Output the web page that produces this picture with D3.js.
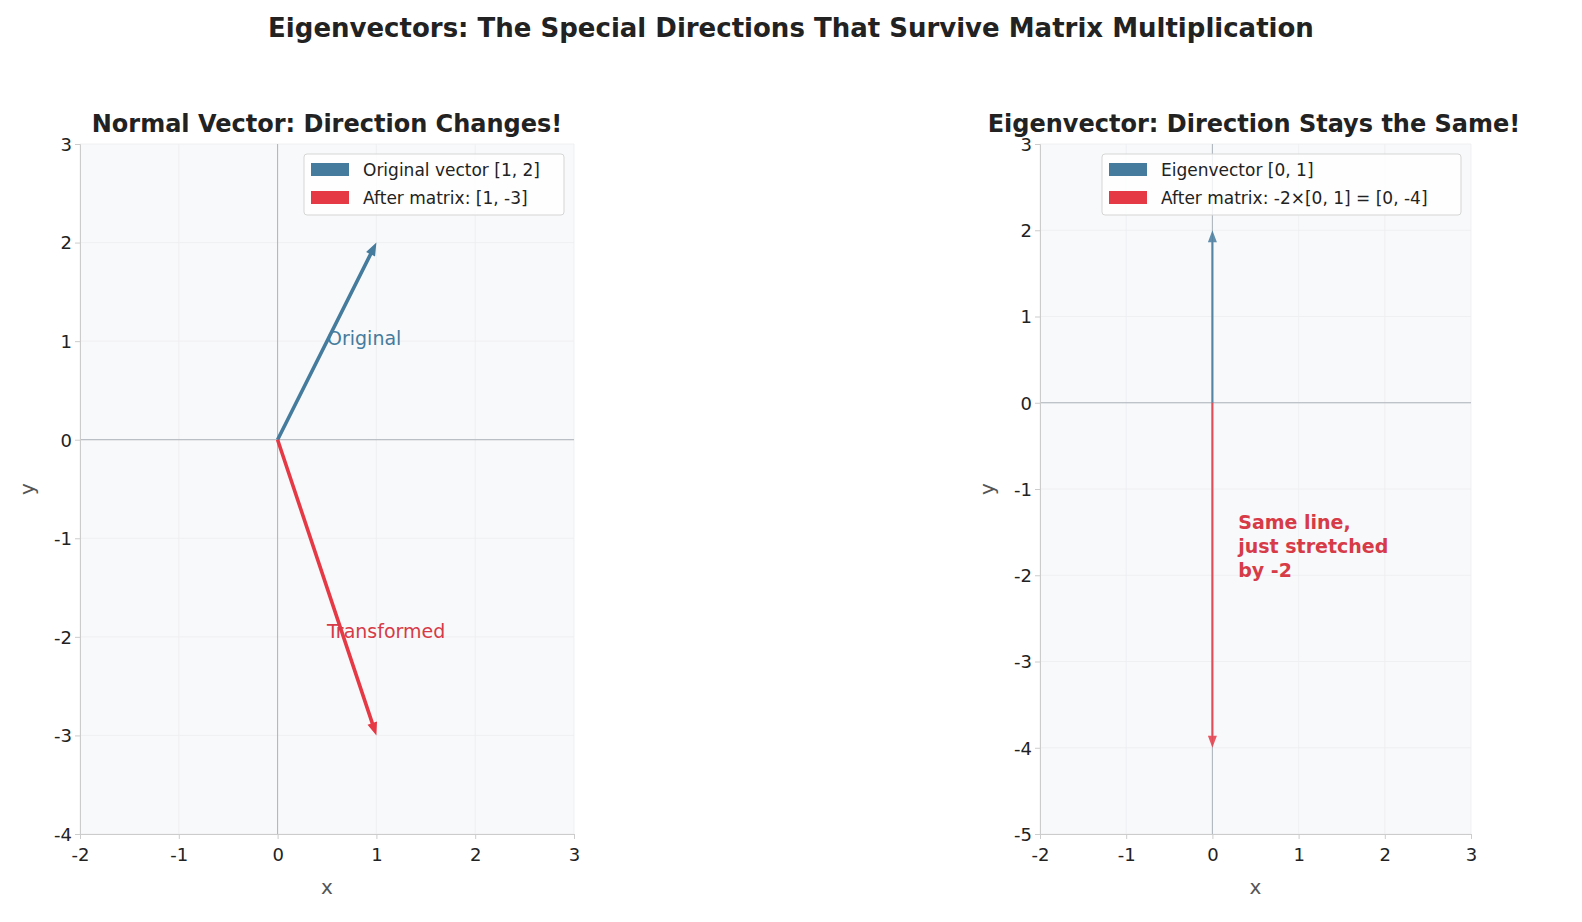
<!DOCTYPE html>
<html>
<head>
<meta charset="UTF-8">
<style>
  body { margin: 0; background: #fff; }
  svg { font-family: "DejaVu Sans", sans-serif; }
</style>
</head>
<body>
<svg width="1582" height="922"></svg>
<script src="https://d3js.org/d3.v7.min.js"></script>
<script>
// data
var leftXTicks = [-2, -1, 0, 1, 2, 3];
var leftYTicks = [-4, -3, -2, -1, 0, 1, 2, 3];
var rightXTicks = [-2, -1, 0, 1, 2, 3];
var rightYTicks = [-5, -4, -3, -2, -1, 0, 1, 2, 3];
var leftVectors = [[1, 2], [1, -3]];
var rightVectors = [[0, 2], [0, -4]];
var leftLegend = ["Original vector [1, 2]", "After matrix: [1, -3]"];
var rightLegend = ["Eigenvector [0, 1]", "After matrix: -2×[0, 1] = [0, -4]"];
var blue = "#457b9d", red = "#e63946";

var svg = d3.select("svg");
svg.append("text").attr("x", 791).attr("y", 37).attr("text-anchor", "middle")
  .attr("font-size", 26).attr("font-weight", "bold").attr("fill", "#222")
  .text("Eigenvectors: The Special Directions That Survive Matrix Multiplication");

var fmt = d => String(d).replace("\u2212", "-");

function panel(o) {
  var x = d3.scaleLinear().domain(o.xd).range([o.x0, o.x1]);
  var y = d3.scaleLinear().domain(o.yd).range([834, 144]);
  var g = svg.append("g");
  g.append("rect").attr("x", o.x0).attr("y", 144).attr("width", o.x1 - o.x0).attr("height", 690).attr("fill", "#f8f9fa");
  g.selectAll(".gx").data(o.xt).enter().append("line")
    .attr("x1", d => x(d)).attr("x2", d => x(d)).attr("y1", 144).attr("y2", 834)
    .attr("stroke", "#eceef0").attr("stroke-width", 0.8);
  g.selectAll(".gy").data(o.yt).enter().append("line")
    .attr("y1", d => y(d)).attr("y2", d => y(d)).attr("x1", o.x0).attr("x2", o.x1)
    .attr("stroke", "#eceef0").attr("stroke-width", 0.8);
  g.append("line").attr("x1", x(0)).attr("x2", x(0)).attr("y1", 144).attr("y2", 834).attr("stroke", "#a4acb3").attr("stroke-width", 0.9);
  g.append("line").attr("y1", y(0)).attr("y2", y(0)).attr("x1", o.x0).attr("x2", o.x1).attr("stroke", "#a4acb3").attr("stroke-width", 0.9);
  var ax = g.append("g").attr("transform", "translate(0,834)")
    .call(d3.axisBottom(x).tickValues(o.xt).tickFormat(fmt).tickSize(5));
  var ay = g.append("g").attr("transform", "translate(" + o.x0 + ",0)")
    .call(d3.axisLeft(y).tickValues(o.yt).tickFormat(fmt).tickSize(5));
  [ax, ay].forEach(a => {
    a.selectAll("path,line").attr("stroke", "#ccc");
    a.selectAll("text").attr("font-size", 18).attr("fill", "#222").attr("font-family", "DejaVu Sans");
  });
  ax.selectAll("text").attr("dy", "1.05em");
  ay.selectAll("text").attr("dy", "0.35em");
  g.append("text").attr("x", (o.x0 + o.x1) / 2).attr("y", 894).attr("text-anchor", "middle")
    .attr("font-size", 20).attr("fill", "#555").text("x");
  g.append("text").attr("transform", "translate(" + (o.x0 - 46) + ",489) rotate(-90)").attr("text-anchor", "middle")
    .attr("font-size", 20).attr("fill", "#555").text("y");
  g.append("text").attr("x", o.tx).attr("y", 132).attr("text-anchor", "middle")
    .attr("font-size", 24).attr("font-weight", "bold").attr("fill", "#222").text(o.title);
  o.vecs.forEach((v, i) => {
    var px0 = x(0), py0 = y(0), px1 = x(v[0]), py1 = y(v[1]);
    var dx = px1 - px0, dy = py1 - py0, L = Math.hypot(dx, dy);
    var ux = dx / L, uy = dy / L, nx = -uy, ny = ux;
    var w = o.sw / 2, hl = o.hl, hw = o.hw;
    var bx = px1 - ux * hl, by = py1 - uy * hl;
    var pts = [[px0 + nx * w, py0 + ny * w], [bx + nx * w, by + ny * w], [bx + nx * hw, by + ny * hw], [px1, py1],
      [bx - nx * hw, by - ny * hw], [bx - nx * w, by - ny * w], [px0 - nx * w, py0 - ny * w]];
    g.append("path").attr("d", d3.line()(pts) + "Z").attr("fill", i ? red : blue).attr("opacity", o.op);
  });
  var lg = g.append("g").attr("transform", "translate(" + o.lx + ",154)");
  lg.append("rect").attr("width", o.lw).attr("height", 61).attr("rx", 3).attr("fill", "#fff").attr("fill-opacity", 0.8)
    .attr("stroke", "#d5d5d5");
  o.leg.forEach((t, i) => {
    lg.append("rect").attr("x", 7).attr("y", 9 + i * 28).attr("width", 38).attr("height", 13).attr("fill", i ? red : blue);
    lg.append("text").attr("x", 59).attr("y", 22 + i * 28).attr("font-size", 17).attr("fill", "#222").text(t);
  });
  return {x: x, y: y, g: g};
}

var L = panel({x0: 80, x1: 574, xd: [-2, 3], yd: [-4, 3], xt: leftXTicks, yt: leftYTicks, tx: 327,
  title: "Normal Vector: Direction Changes!", vecs: leftVectors, sw: 3.6, hl: 13, hw: 5, op: 1,
  leg: leftLegend, lx: 304, lw: 260});
L.g.append("text").attr("x", L.x(0.5)).attr("y", L.y(1) + 4).attr("font-size", 19).attr("fill", blue).text("Original");
L.g.append("text").attr("x", L.x(0.5)).attr("y", L.y(-2) + 1).attr("font-size", 19).attr("fill", "#d63b47").text("Transformed");

var R = panel({x0: 1040, x1: 1471, xd: [-2, 3], yd: [-5, 3], xt: rightXTicks, yt: rightYTicks, tx: 1254,
  title: "Eigenvector: Direction Stays the Same!", vecs: rightVectors, sw: 2.2, hl: 12, hw: 4.5, op: 0.85,
  leg: rightLegend, lx: 1102, lw: 359});
["Same line,", "just stretched", "by -2"].forEach((t, i) => {
  R.g.append("text").attr("x", R.x(0.3)).attr("y", 529 + i * 24).attr("font-size", 19).attr("font-weight", "bold")
    .attr("fill", "#d63b47").text(t);
});
</script>
</body>
</html>
